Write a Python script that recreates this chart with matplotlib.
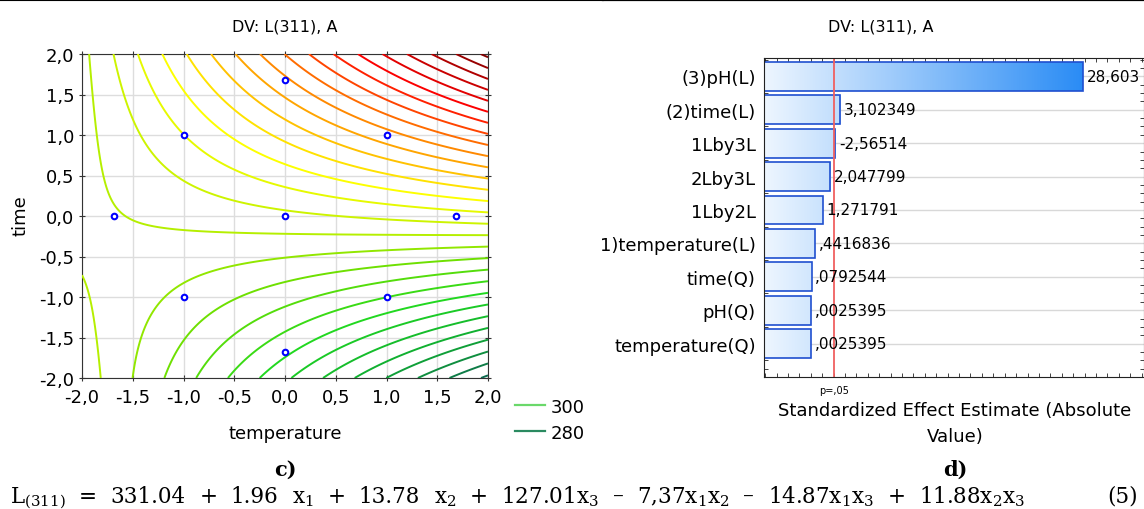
import numpy as np
import matplotlib
matplotlib.use('Agg')
import matplotlib.pyplot as plt
from matplotlib.colors import LinearSegmentedColormap
from matplotlib.ticker import MultipleLocator, FuncFormatter
from matplotlib.lines import Line2D

plt.rcParams['font.family'] = ['DejaVu Sans']
plt.rcParams['axes.unicode_minus'] = False
plt.rcParams['mathtext.fontset'] = 'dejavuserif'
plt.rcParams['mathtext.default'] = 'rm'

# fitted surface read off panel c): z = a + b*t + c*time + d*t*time + e*t^2 + f*time^2
surf_coef = [535.1, 9.45, 69.1, 36.75, -0.09, 1.78]
contour_levels = list(range(280, 860, 20))
legend_levels = [300, 280]
legend_colors = ['#6ad86a', '#2a8a60']

# design points
design_temp = [-1.68, -1, -1, 0, 0, 0, 1, 1, 1.68]
design_time = [0, 1, -1, 1.68, 0, -1.68, 1, -1, 0]

# pareto panel d)
effect_names = ['(3)pH(L)', '(2)time(L)', '1Lby3L', '2Lby3L', '1Lby2L',
                '1)temperature(L)', 'time(Q)', 'pH(Q)', 'temperature(Q)']
effect_values = [28.603, 3.102349, -2.56514, 2.047799, 1.271791,
                 0.4416836, 0.0792544, 0.0025395, 0.0025395]
effect_labels = ['28,603', '3,102349', '-2,56514', '2,047799', '1,271791',
                 ',4416836', ',0792544', ',0025395', ',0025395']
p_crit = 2.447

eq_tokens = [r'L$_{(311)}$', '=', '331.04', '+', '1.96', r'x$_1$', '+', '13.78', r'x$_2$', '+',
             r'127.01x$_3$', '–', r'7,37x$_1$x$_2$', '–', r'14.87x$_1$x$_3$', '+',
             r'11.88x$_2$x$_3$']

fig = plt.figure(figsize=(11.44, 5.10), dpi=100)
W, H = 1144, 510

def fx(px):
    return px / W

def fy(py):
    return 1 - py / H

# ---------- c) contour ----------
ax = fig.add_axes([fx(82), fy(379), fx(488 - 82), (379 - 55) / H])
cmap = LinearSegmentedColormap.from_list("st", [(0, "#0d6b4f"), (0.14, "#10b030"), (0.25, "#20d820"),
                                                (0.36, "#70e000"), (0.43, "#b8f000"), (0.54, "#ffff00"),
                                                (0.61, "#ffc000"), (0.71, "#ff7000"), (0.82, "#ff0000"),
                                                (0.93, "#b00000"), (1, "#800000")])
g = np.linspace(-2, 2, 300)
gx, gy = np.meshgrid(g, g)
a, b, c, d, e, f = surf_coef
zz = a + b * gx + c * gy + d * gx * gy + e * gx ** 2 + f * gy ** 2
ax.contour(gx, gy, zz, levels=contour_levels, cmap=cmap, vmin=280, vmax=840,
           linewidths=1.4, zorder=3)
ax.plot(design_temp, design_time, 'o', ms=4, mfc='white', mec='#0000ff', mew=1.5, zorder=5)
ax.set_xlim(-2, 2)
ax.set_ylim(-2, 2)
ax.set_xticks(np.arange(-2, 2.01, 0.5))
ax.set_yticks(np.arange(-2, 2.01, 0.5))
comma = FuncFormatter(lambda v, p: f"{v:.1f}".replace('.', ','))
ax.xaxis.set_major_formatter(comma)
ax.yaxis.set_major_formatter(comma)
ax.grid(True, color='#dddddd', lw=1, zorder=0)
ax.tick_params(labelsize=13, direction='inout', length=4, top=True, right=True, color='#333333')
ax.tick_params(axis='x', pad=5)
for s in ax.spines.values():
    s.set_color('#333333')
fig.text(fx(285), fy(27), 'DV: L(311), A', ha='center', va='center', fontsize=11.5)
fig.text(fx(285), fy(434), 'temperature', ha='center', va='center', fontsize=13)
fig.text(fx(20), fy(216), 'time', ha='center', va='center', rotation=90, fontsize=13)
for i, (lv, col) in enumerate(zip(legend_levels, legend_colors)):
    yy = fy(406 + 26 * i)
    fig.add_artist(Line2D([fx(515), fx(545)], [yy, yy], color=col, lw=1.6))
    fig.text(fx(551), yy - 0.004, str(lv), ha='left', va='center', fontsize=13)

# ---------- d) pareto ----------
ax2 = fig.add_axes([fx(764), fy(378), fx(1143.5 - 764), (378 - 59) / H])
xmin, xmax = -4.92, 35.0
ypos = np.arange(len(effect_names))
absv = np.abs(effect_values)
grad = np.linspace(0, 1, 256).reshape(1, -1)
bcmap = LinearSegmentedColormap.from_list("bl", ["#eef6ff", "#2a8cf5"])
gmax = absv.max()
for yv, v in zip(ypos, absv):
    rect = ax2.barh(yv, v - xmin, left=xmin, height=0.86, facecolor='none',
                    edgecolor='#1f4fcf', lw=1.2, zorder=4)[0]
    im = ax2.imshow(grad, cmap=bcmap, extent=[xmin, gmax, yv + 0.43, yv - 0.43],
                    aspect='auto', zorder=3)
    im.set_clip_path(rect)
for yv, v, lab in zip(ypos, absv, effect_labels):
    ax2.text(v + 0.4, yv, lab, ha='left', va='center', fontsize=11, zorder=6)
ax2.set_xlim(xmin, xmax)
ax2.set_ylim(len(effect_names), -0.55)
ax2.axvline(p_crit, color='#f06060', lw=1.3, zorder=5)
ax2.set_yticks(ypos)
ax2.set_yticklabels(effect_names, fontsize=13)
ax2.yaxis.grid(True, color='#d8d8d8', lw=1, zorder=0)
ax2.set_xticks([p_crit])
ax2.set_xticklabels(['p=,05'], fontsize=7)
ax2.tick_params(axis='x', which='major', length=0, pad=6)
ax2.tick_params(axis='y', which='major', length=0, pad=6)
ax2.xaxis.set_minor_locator(MultipleLocator(1.2))
ax2.yaxis.set_minor_locator(MultipleLocator(0.25))
ax2.tick_params(which='minor', direction='in', length=3, top=True, right=True, color='#222222')
for s in ax2.spines.values():
    s.set_color('#222222')
    s.set_zorder(7)
fig.text(fx(881), fy(27), 'DV: L(311), A', ha='center', va='center', fontsize=11.5)
fig.text(fx(955), fy(424), 'Standardized Effect Estimate (Absolute\nValue)', ha='center',
         va='center', fontsize=13, linespacing=1.55)

# ---------- captions ----------
fig.text(fx(285), fy(470), 'c)', ha='center', va='center', fontsize=15,
         family='DejaVu Serif', weight='bold')
fig.text(fx(955), fy(470), 'd)', ha='center', va='center', fontsize=15,
         family='DejaVu Serif', weight='bold')

# equation line, evenly spread between 10 px and ~1025 px
renderer = fig.canvas.get_renderer()
toks = [fig.text(0, fy(503), t, ha='left', va='baseline', fontsize=15.5, family='DejaVu Serif')
        for t in eq_tokens]
widths = [t.get_window_extent(renderer).width for t in toks]
gap = (1025 - 10 - sum(widths)) / (len(toks) - 1)
xpos = 10
for t, w in zip(toks, widths):
    t.set_x(fx(xpos))
    xpos += w + gap
fig.text(fx(1138), fy(503), '(5)', ha='right', va='baseline', fontsize=15.5, family='DejaVu Serif')

# top rules
fig.add_artist(Line2D([0, fx(603)], [fy(0.5), fy(0.5)], color='black', lw=0.8))
fig.add_artist(Line2D([fx(603), 1], [fy(1), fy(1)], color='black', lw=1.6))

fig.savefig("out.png", dpi=100)
